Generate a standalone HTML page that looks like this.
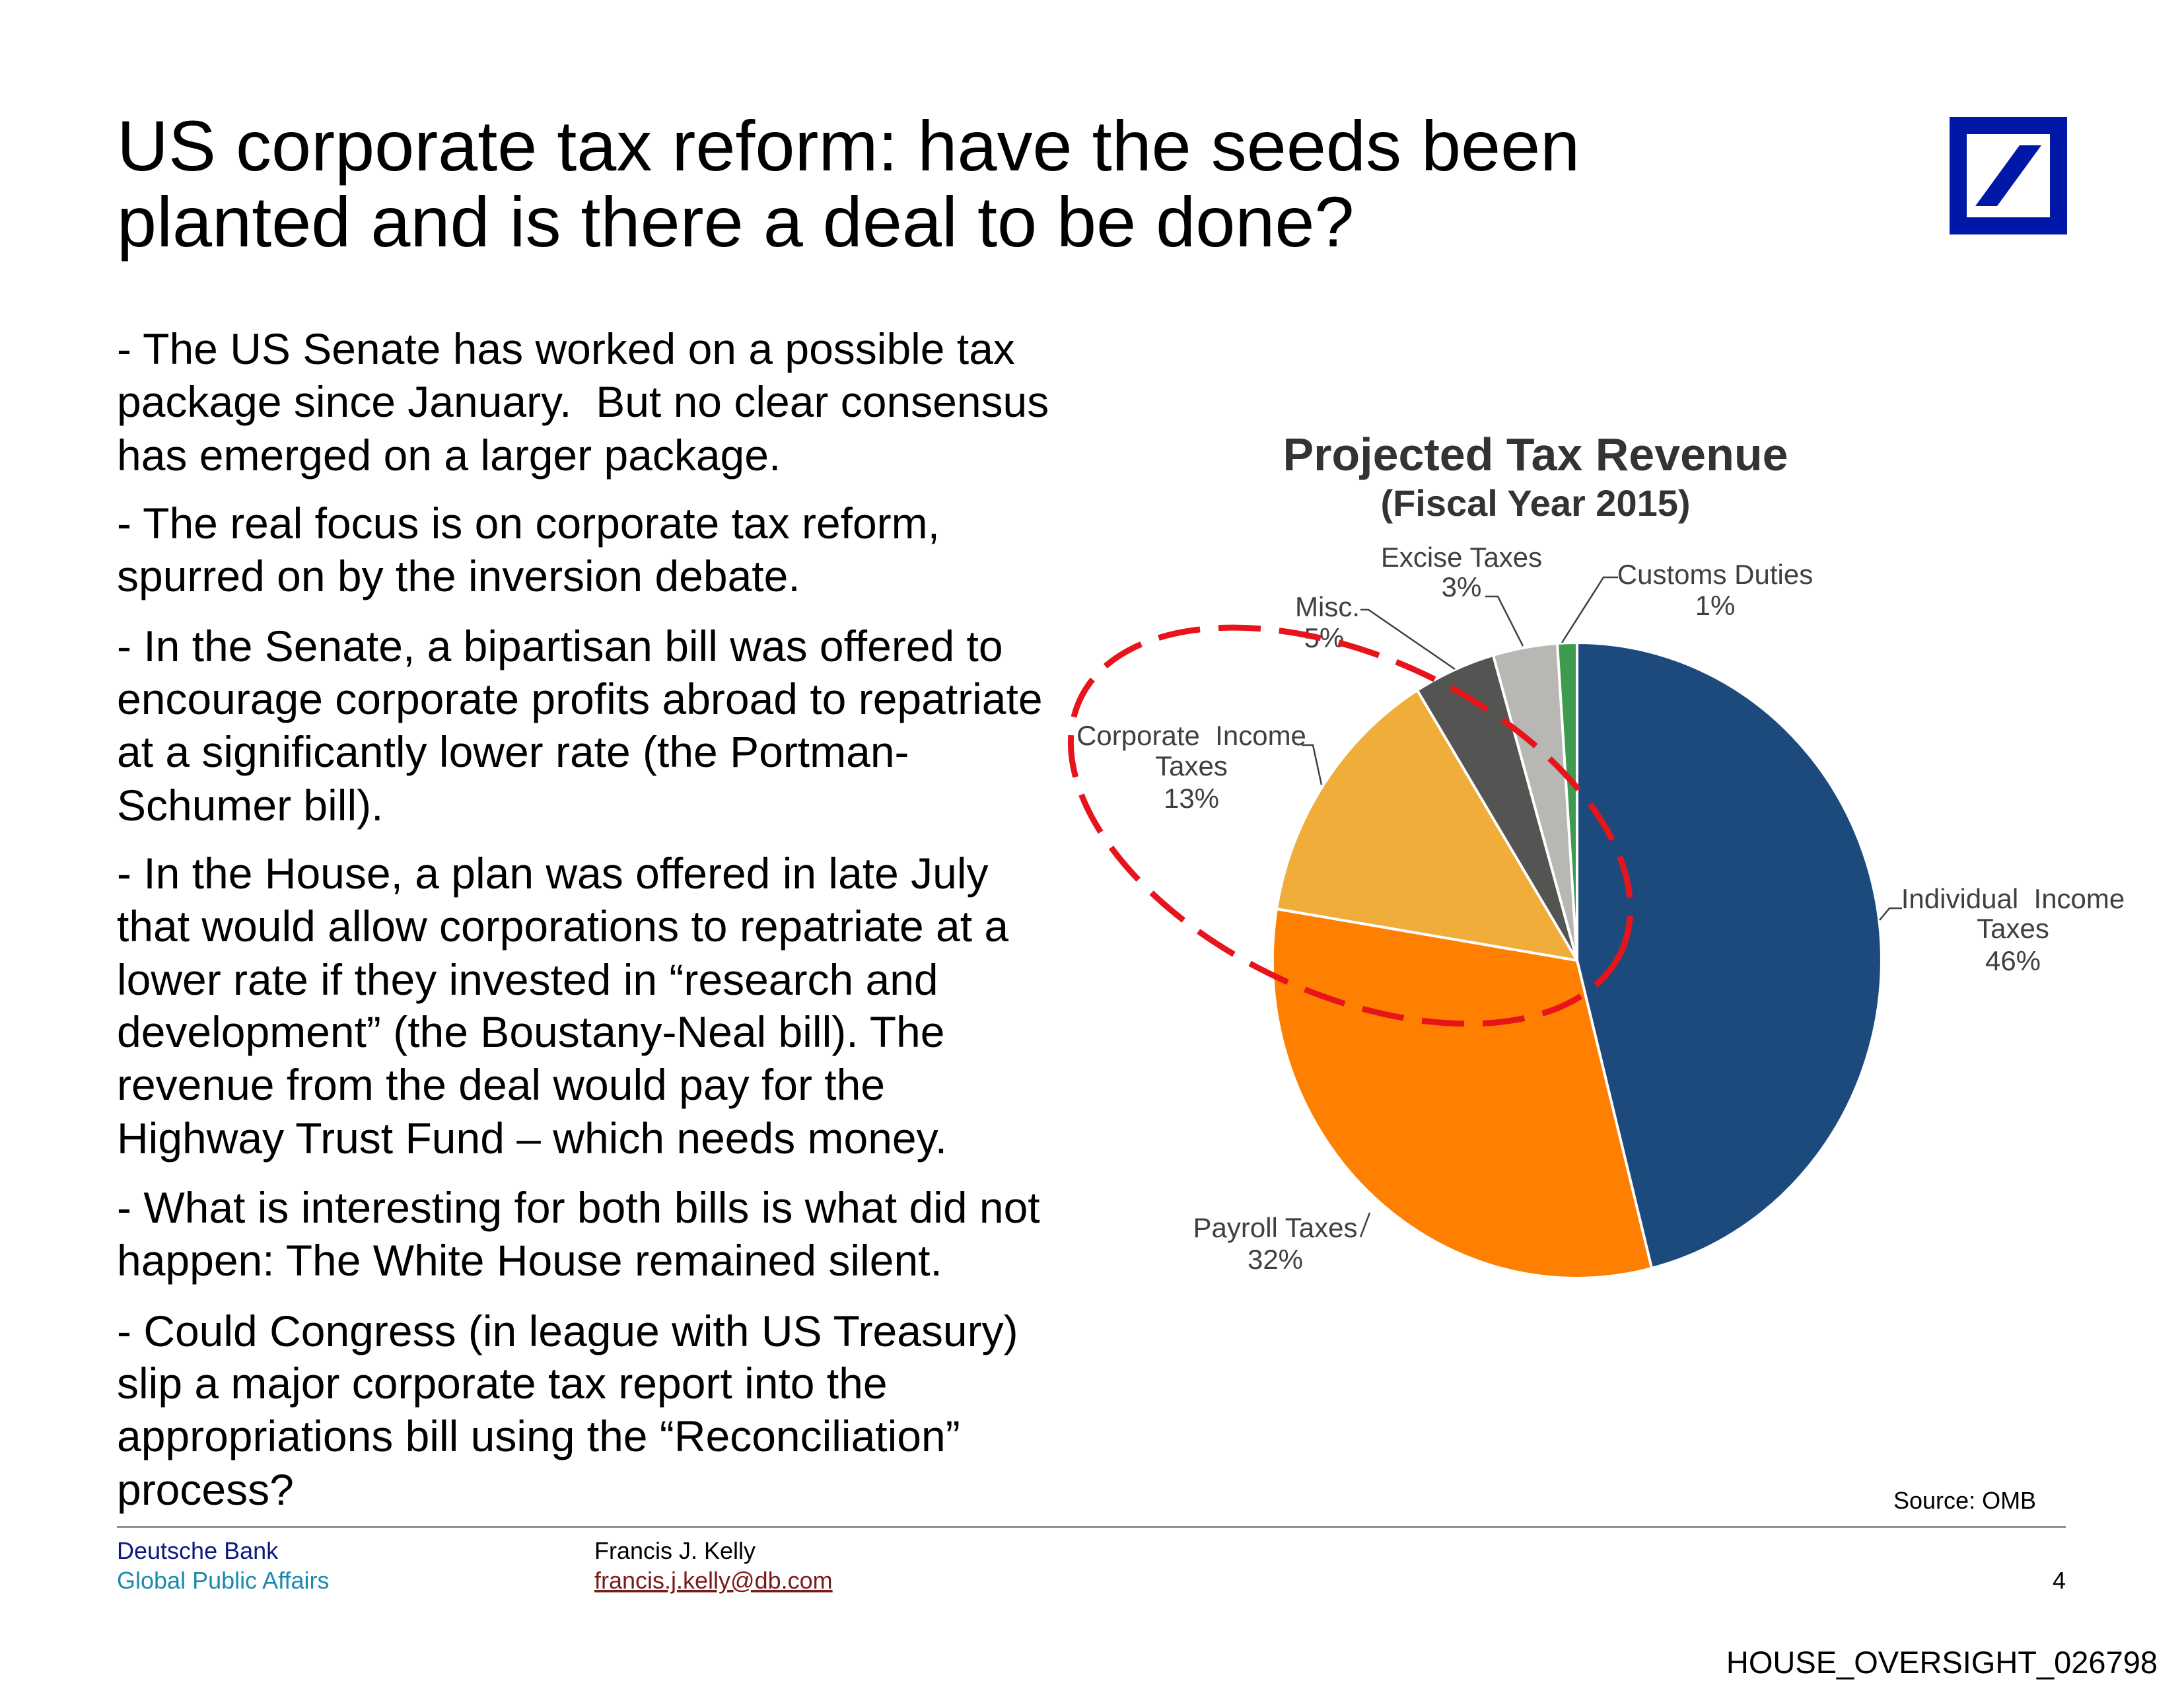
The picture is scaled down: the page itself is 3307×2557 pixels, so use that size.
<!DOCTYPE html>
<html><head><meta charset="utf-8"><style>
html,body{margin:0;padding:0;background:#fff}
svg{display:block}
.t{font-family:"Liberation Sans",Arial,sans-serif}
.n{font-family:"Liberation Sans Narrow","Liberation Sans",sans-serif;fill:#404040;font-size:42px}
</style></head><body>
<svg width="3307" height="2557" viewBox="0 0 3307 2557" xmlns="http://www.w3.org/2000/svg">
<rect width="3307" height="2557" fill="#fff"/>
<g class="t" font-size="108" fill="#000">
<text x="177" y="258">US corporate tax reform: have the seeds been</text>
<text x="177" y="373">planted and is there a deal to be done?</text>
</g>
<rect x="2952" y="177" width="178" height="178" fill="#0018a8"/>
<rect x="2978" y="203" width="126" height="126" fill="#fff"/>
<polygon points="2991,312 3024,312 3091,220 3058,220" fill="#0018a8"/>
<g class="t" font-size="66" fill="#000">
<text x="177" y="551">- The US Senate has worked on a possible tax</text>
<text x="177" y="631">package since January.&#160; But no clear consensus</text>
<text x="177" y="712">has emerged on a larger package.</text>
<text x="177" y="815">- The real focus is on corporate tax reform,</text>
<text x="177" y="895">spurred on by the inversion debate.</text>
<text x="177" y="1001">- In the Senate, a bipartisan bill was offered to</text>
<text x="177" y="1081">encourage corporate profits abroad to repatriate</text>
<text x="177" y="1161">at a significantly lower rate (the Portman-</text>
<text x="177" y="1242">Schumer bill).</text>
<text x="177" y="1345">- In the House, a plan was offered in late July</text>
<text x="177" y="1425">that would allow corporations to repatriate at a</text>
<text x="177" y="1506">lower rate if they invested in “research and</text>
<text x="177" y="1585">development” (the Boustany-Neal bill). The</text>
<text x="177" y="1665">revenue from the deal would pay for the</text>
<text x="177" y="1746">Highway Trust Fund – which needs money.</text>
<text x="177" y="1851">- What is interesting for both bills is what did not</text>
<text x="177" y="1931">happen: The White House remained silent.</text>
<text x="177" y="2038">- Could Congress (in league with US Treasury)</text>
<text x="177" y="2117">slip a major corporate tax report into the</text>
<text x="177" y="2197">appropriations bill using the “Reconciliation”</text>
<text x="177" y="2278">process?</text>
</g>
<g class="t" font-weight="bold" fill="#333" text-anchor="middle">
<text x="2325" y="712" font-size="70">Projected Tax Revenue</text>
<text x="2325" y="781" font-size="56">(Fiscal Year 2015)</text>
</g>
<g stroke="#fff" stroke-width="4" stroke-linejoin="round">
<path d="M2388,1454 L2388,973 A461,481 0 0 1 2849,1454 A461,481 0 0 1 2501,1920 Z" fill="#1d4a7c"/>
<path d="M2388,1454 L2501,1920 A461,481 0 0 1 2388,1935 A461,481 0 0 1 1933,1376 Z" fill="#ff7f00"/>
<path d="M2388,1454 L1933,1376 A461,481 0 0 1 2146,1045 Z" fill="#f0ad3a"/>
<path d="M2388,1454 L2146,1045 A461,481 0 0 1 2261,992 Z" fill="#545452"/>
<path d="M2388,1454 L2261,992 A461,481 0 0 1 2358,974 Z" fill="#b8b7b3"/>
<path d="M2388,1454 L2358,974 A461,481 0 0 1 2388,973 Z" fill="#3e9a4c"/>
</g>
<g stroke="#404040" stroke-width="2.5" fill="none">
<polyline points="2060,923 2072,923 2203,1013"/>
<polyline points="2249,903 2268,903 2306,978"/>
<polyline points="2450,874 2428,874 2365,973"/>
<polyline points="1971,1128 1988,1128 2001,1188"/>
<polyline points="2880,1375 2861,1375 2846,1393"/>
<polyline points="2060,1873 2074,1836"/>
</g>
<g class="n" text-anchor="middle">
<text x="2213" y="858">Excise Taxes</text><text x="2213" y="903">3%</text>
<text x="2597" y="884">Customs Duties</text><text x="2597" y="931">1%</text>
<text x="2010" y="933">Misc.</text><text x="2005" y="980">5%</text>
<text x="1804" y="1128">Corporate&#160; Income</text><text x="1804" y="1174">Taxes</text><text x="1804" y="1223">13%</text>
<text x="3048" y="1375">Individual&#160; Income</text><text x="3048" y="1420">Taxes</text><text x="3048" y="1469">46%</text>
<text x="1931" y="1873">Payroll Taxes</text><text x="1931" y="1921">32%</text>
</g>
<ellipse cx="2045" cy="1250" rx="452" ry="255" transform="rotate(25 2045 1250)" fill="none" stroke="#e8141c" stroke-width="9" stroke-dasharray="64 28"/>
<text class="t" x="2867" y="2284" font-size="36" fill="#000">Source: OMB</text>
<rect x="177" y="2310" width="2951" height="3" fill="#8a9496"/>
<g class="t" font-size="36">
<text x="177" y="2360" fill="#0a1a80">Deutsche Bank</text>
<text x="177" y="2405" fill="#1a8ab0">Global Public Affairs</text>
<text x="900" y="2360" fill="#000">Francis J. Kelly</text>
<text x="900" y="2405" fill="#7a1a1a" text-decoration="underline">francis.j.kelly@db.com</text>
<text x="3128" y="2405" fill="#000" text-anchor="end">4</text>
</g>
<text class="t" x="3267" y="2533" font-size="47" fill="#000" text-anchor="end">HOUSE_OVERSIGHT_026798</text>
</svg>
</body></html>
